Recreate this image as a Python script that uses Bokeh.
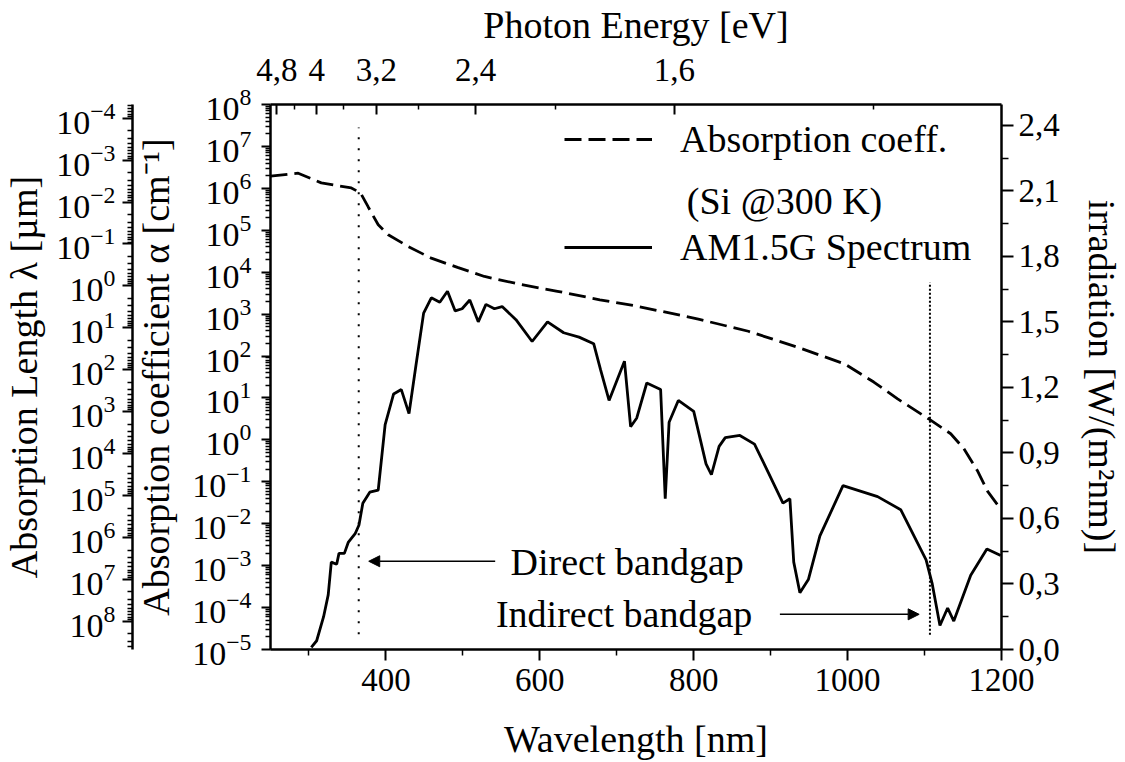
from bokeh.plotting import figure
from bokeh.models import (Range1d, LinearAxis, LogAxis, LinearScale, LogScale, FixedTicker,
                          Legend, LegendItem, Label, Arrow, NormalHead)
from bokeh.embed import file_html
from bokeh.resources import INLINE
from bokeh.core.properties import value

# ---------------- data ----------------
# AM1.5G spectrum: wavelength [nm] and irradiance [W/(m^2 nm)]
am_wavelength = [303, 310, 319, 325, 329, 336, 339, 346, 351, 360, 365, 370, 379, 390, 399, 410,
                 420, 430, 439, 449, 459, 470, 480, 490, 499, 509, 520, 530, 541, 551, 569, 590,
                 610, 631, 651, 670, 679, 690, 710, 718, 726, 739, 757, 763, 768, 780, 800, 816,
                 823, 833, 841, 860, 879, 897, 916, 925, 930, 938, 949, 964, 994, 1039, 1069,
                 1102, 1110, 1120, 1130, 1138, 1160, 1181, 1199]
am_irradiance = [0.01, 0.04, 0.15, 0.25, 0.40, 0.39, 0.44, 0.44, 0.49, 0.53, 0.57, 0.67, 0.72,
                 0.73, 1.03, 1.17, 1.19, 1.08, 1.30, 1.54, 1.61, 1.59, 1.64, 1.55, 1.56, 1.60,
                 1.50, 1.58, 1.56, 1.57, 1.51, 1.41, 1.50, 1.45, 1.43, 1.40, 1.28, 1.14, 1.32,
                 1.02, 1.06, 1.22, 1.19, 0.69, 1.04, 1.14, 1.09, 0.85, 0.80, 0.93, 0.97, 0.98,
                 0.94, 0.81, 0.67, 0.69, 0.40, 0.26, 0.32, 0.52, 0.75, 0.70, 0.64, 0.41, 0.30,
                 0.11, 0.19, 0.13, 0.34, 0.46, 0.43]

# Absorption coefficient of Si @300 K: wavelength [nm] and alpha [1/cm]
si_wavelength = [250, 286, 316, 355, 367, 377, 390, 403, 429, 458, 493, 528, 575, 623, 678, 726,
                 806, 871, 936, 996, 1034, 1065, 1105, 1134, 1151, 1169, 1182, 1195]
si_alpha = [1.95e6, 2.3e6, 1.35e6, 1.02e6, 7.8e5, 3.6e5, 1.35e5, 7.8e4, 4.1e4, 2.2e4, 1.3e4,
            7.9e3, 5.1e3, 3.5e3, 2.2e3, 1.55e3, 760, 390, 160, 65, 24, 9.5, 3.2, 1.4, 0.62,
            0.18, 0.059, 0.028]

# band gaps of Si [eV]: direct, indirect
bandgap_energy = [3.4, 1.12]
bandgap_names = ["Direct bandgap", "Indirect bandgap"]

# axes ticks
wl_major = [400, 600, 800, 1000, 1200]
wl_minor = [300, 500, 700, 900, 1100]
energy_major = [4.8, 4.0, 3.2, 2.4, 1.6]
energy_labels = ["4,8", "4", "3,2", "2,4", "1,6"]
energy_minor = [4.4, 3.6, 2.8, 2.0, 1.2]
irr_major = [0.0, 0.3, 0.6, 0.9, 1.2, 1.5, 1.8, 2.1, 2.4]
irr_labels = ["0,0", "0,3", "0,6", "0,9", "1,2", "1,5", "1,8", "2,1", "2,4"]
irr_minor = [0.15, 0.45, 0.75, 1.05, 1.35, 1.65, 1.95, 2.25]
alpha_decades = list(range(-5, 9))
length_decades = list(range(-4, 9))

HC = 1239.84  # eV nm

FONT = "Liberation Serif"
TICK = "33px"
LOGTICK = "34px"
LAB = "38px"

p = figure(width=1125, height=762, x_range=Range1d(250, 1200), y_range=Range1d(1e-5, 1e8),
           y_axis_type="log", output_backend="svg", toolbar_location=None,
           min_border_left=267, min_border_right=124, min_border_top=104, min_border_bottom=110)
p.xgrid.visible = False
p.ygrid.visible = False
p.outline_line_color = None
p.background_fill_color = "white"
p.border_fill_color = "white"

p.extra_y_ranges = {"irr": Range1d(0, 2.495), "len": Range1d(10 ** 8.673, 10 ** -4.327)}
p.extra_y_scales = {"irr": LinearScale(), "len": LogScale()}


def style(ax, tin, tout, mtin, mtout, tick_size=TICK):
    ax.axis_line_width = 2.5
    ax.axis_line_color = "black"
    ax.major_tick_line_width = 2
    ax.minor_tick_line_width = 1.5
    ax.major_tick_line_color = "black"
    ax.minor_tick_line_color = "black"
    ax.major_tick_in = tin
    ax.major_tick_out = tout
    ax.minor_tick_in = mtin
    ax.minor_tick_out = mtout
    ax.major_label_text_font = FONT
    ax.major_label_text_font_size = tick_size
    ax.major_label_text_color = "black"
    ax.axis_label_text_font = FONT
    ax.axis_label_text_font_size = LAB
    ax.axis_label_text_font_style = "normal"
    ax.axis_label_text_color = "black"


# bottom axis (wavelength)
xa = p.xaxis[0]
xa.ticker = FixedTicker(ticks=wl_major, minor_ticks=wl_minor)
xa.axis_label = "Wavelength [nm]"
style(xa, 0, 11, 0, 6)
xa.major_label_standoff = 8
xa.axis_label_standoff = 24

# left axis: absorption coefficient
ya = p.yaxis[0]
ya.ticker = FixedTicker(ticks=[10.0 ** k for k in alpha_decades],
                        minor_ticks=[m * 10.0 ** k for k in alpha_decades[:-1] for m in range(2, 10)])
ya.axis_label = "Absorption coefficient α [cm⁻¹]"
style(ya, 0, 9, 0, 5, LOGTICK)
ya.major_label_standoff = 10
ya.axis_label_standoff = 12

# outer left axis: absorption length
la = LogAxis(y_range_name="len",
             ticker=FixedTicker(ticks=[10.0 ** k for k in length_decades],
                                minor_ticks=[m * 10.0 ** k for k in range(-5, 9) for m in range(2, 10)]),
             axis_label="Absorption Length λ [µm]")
style(la, 0, 10, 0, 5, LOGTICK)
la.major_label_standoff = 7
la.axis_label_standoff = 8
p.add_layout(la, "left")

# top axis: photon energy
energy_wl = [HC / e for e in energy_major]
energy_minor_wl = [HC / e for e in energy_minor]
ta = LinearAxis(ticker=FixedTicker(ticks=energy_wl, minor_ticks=energy_minor_wl),
                major_label_overrides=dict(zip(energy_wl, energy_labels)),
                axis_label="Photon Energy [eV]")
style(ta, 10, 0, 5, 0)
ta.major_label_standoff = 24
ta.axis_label_standoff = 10
p.add_layout(ta, "above")

# right axis: irradiation
ra = LinearAxis(y_range_name="irr", ticker=FixedTicker(ticks=irr_major, minor_ticks=irr_minor),
                major_label_overrides=dict(zip(irr_major, irr_labels)),
                axis_label="irradiation [W/(m²nm)]")
style(ra, 0, 12, 0, 7)
ra.major_label_standoff = 5
ra.axis_label_standoff = 18
p.add_layout(ra, "right")

# curves
r_si = p.line(si_wavelength, si_alpha, line_color="black", line_width=2.8, line_dash="17 7")
r_am = p.line(am_wavelength, am_irradiance, y_range_name="irr", line_color="black", line_width=2.8)

# band gap markers
bg_wl = [HC / e for e in bandgap_energy]
p.segment(x0=[bg_wl[0]], y0=[0.07], x1=[bg_wl[0]], y1=[2.39], y_range_name="irr",
          line_color="black", line_width=2, line_dash="2 9")
p.segment(x0=[bg_wl[1]], y0=[0.068], x1=[bg_wl[1]], y1=[1.68], y_range_name="irr",
          line_color="black", line_width=2, line_dash="2 2")

# annotations
p.add_layout(Arrow(end=NormalHead(size=11, fill_color="black", line_color="black", line_width=1),
                   x_start=542, y_start=0.404, x_end=bg_wl[0] + 13, y_end=0.404,
                   y_range_name="irr", line_width=1.5, line_color="black"))
p.add_layout(Arrow(end=NormalHead(size=11, fill_color="black", line_color="black", line_width=1),
                   x_start=912, y_start=0.161, x_end=bg_wl[1] - 14, y_end=0.161,
                   y_range_name="irr", line_width=1.5, line_color="black"))
p.add_layout(Label(x=562, y=0.40, y_range_name="irr", text=bandgap_names[0],
                   text_font=FONT, text_font_size=LAB, text_baseline="middle", text_color="black"))
p.add_layout(Label(x=543, y=0.161, y_range_name="irr", text=bandgap_names[1],
                   text_font=FONT, text_font_size=LAB, text_baseline="middle", text_color="black"))

# legend
legend = Legend(items=[LegendItem(label=value("Absorption coeff."), renderers=[r_si]),
                       LegendItem(label=value("AM1.5G Spectrum"), renderers=[r_am])],
                location=(294, 380), orientation="vertical",
                background_fill_alpha=0, border_line_color=None,
                label_text_font=FONT, label_text_font_size=LAB, label_text_color="black",
                glyph_width=88, glyph_height=40, label_height=40, spacing=64,
                padding=0, margin=0, label_standoff=28)
p.add_layout(legend)
p.add_layout(Label(x=791, y=10 ** 5.70, text="(Si @300 K)", text_font=FONT,
                   text_font_size=LAB, text_baseline="middle", text_color="black"))

open("out.html", "w").write(file_html(p, INLINE))
